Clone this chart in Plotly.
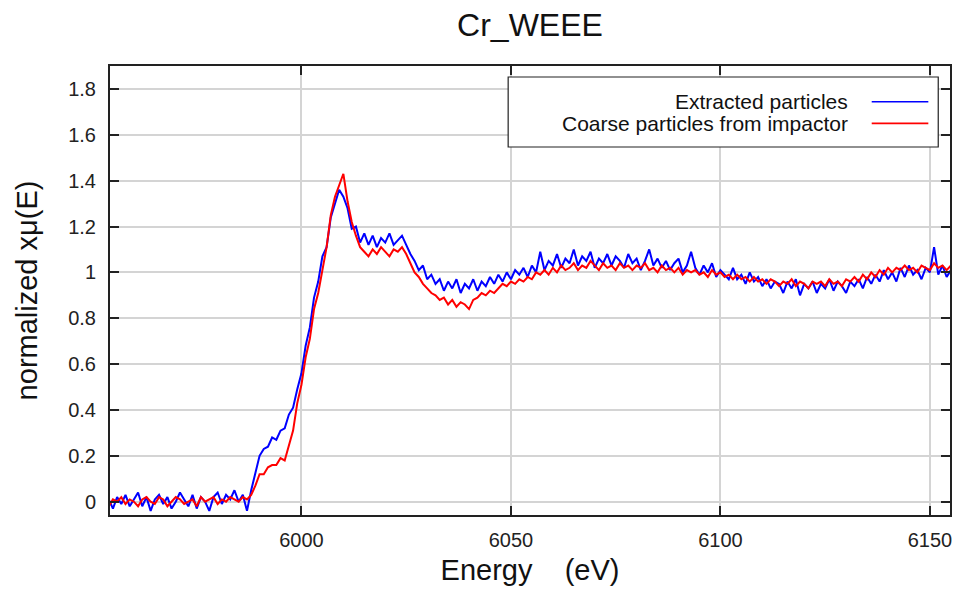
import plotly.graph_objects as go

energy = list(range(5954, 6156))

extracted = [
    0.01, -0.03, 0.02, -0.01, 0.03, -0.02, 0.01, 0.04, -0.02, 0.02,
    -0.04, 0.01, 0.03, -0.01, 0.02, -0.03, 0.00, 0.04, 0.01, -0.02,
    0.03, -0.03, 0.02, 0.00, -0.04, 0.02, 0.04, -0.01, 0.03, 0.01,
    0.05, 0.00, 0.03, -0.04, 0.05, 0.12, 0.20, 0.23, 0.24, 0.28,
    0.27, 0.31, 0.32, 0.38, 0.41, 0.49, 0.56, 0.68, 0.76, 0.89,
    0.96, 1.07, 1.11, 1.24, 1.30, 1.36, 1.33, 1.28, 1.19, 1.20,
    1.13, 1.17, 1.12, 1.16, 1.11, 1.15, 1.13, 1.17, 1.12, 1.14,
    1.16, 1.12, 1.08, 1.05, 1.01, 1.03, 0.97, 0.99, 0.95, 0.97,
    0.92, 0.96, 0.93, 0.97, 0.91, 0.95, 0.93, 0.97, 0.92, 0.96,
    0.94, 0.98, 0.95, 0.99, 0.96, 1.00, 0.97, 1.01, 0.99, 1.02,
    0.98, 1.03, 1.00, 1.09, 1.01, 1.05, 1.03, 1.08, 1.02, 1.06,
    1.04, 1.10, 1.03, 1.07, 1.05, 1.09, 1.02, 1.06, 1.04, 1.08,
    1.03, 1.07, 1.05, 1.02, 1.08, 1.04, 1.06, 1.01, 1.05, 1.10,
    1.03, 1.06, 1.02, 1.05, 1.01, 1.04, 1.06, 1.00, 1.03, 1.09,
    1.02, 0.99, 1.03, 1.00, 1.04, 0.98, 1.01, 0.99, 0.97, 1.02,
    0.97, 0.99, 0.95, 1.00, 0.96, 0.98, 0.94, 0.97, 0.93, 0.96,
    0.95, 0.91, 0.96, 0.93, 0.97, 0.90, 0.95, 0.93, 0.96, 0.91,
    0.95, 0.93, 0.97, 0.92, 0.96, 0.94, 0.91, 0.96, 0.94, 0.97,
    0.93, 0.98, 0.95, 0.99, 0.96, 1.01, 0.97, 1.00, 0.96, 1.02,
    0.98, 1.03, 0.99, 1.01, 0.97, 1.02, 1.00, 1.11, 0.99, 1.03,
    0.98, 1.01,
]

coarse = [
    -0.02, 0.01, 0.00, 0.02, -0.01, 0.01, 0.00, -0.02, 0.01, 0.02,
    0.00, -0.01, 0.02, 0.01, -0.02, 0.00, 0.02, 0.01, -0.01, 0.00,
    0.01, -0.02, 0.02, 0.00, 0.01, 0.02, -0.01, 0.01, 0.00, 0.02,
    0.01, 0.00, 0.02, 0.01, 0.03, 0.07, 0.12, 0.12, 0.15, 0.16,
    0.16, 0.19, 0.18, 0.25, 0.31, 0.43, 0.51, 0.63, 0.71, 0.84,
    0.91, 1.01, 1.11, 1.25, 1.33, 1.38, 1.43, 1.31, 1.22, 1.16,
    1.11, 1.09, 1.07, 1.10, 1.08, 1.11, 1.09, 1.07, 1.10, 1.09,
    1.11, 1.08, 1.04, 1.00, 0.98, 0.95, 0.93, 0.91, 0.90, 0.88,
    0.89, 0.86, 0.88, 0.85, 0.87, 0.86, 0.84, 0.88, 0.89, 0.91,
    0.90, 0.92, 0.91, 0.93, 0.95, 0.94, 0.96, 0.95, 0.97, 0.96,
    0.98, 0.97, 1.00, 0.99, 1.01, 0.99, 1.02, 1.00, 1.03, 1.01,
    1.02, 1.04, 1.01, 1.03, 1.02, 1.05, 1.03, 1.01, 1.04, 1.02,
    1.03, 1.01, 1.04, 1.02, 1.03, 1.01, 1.03, 1.02, 1.04, 1.01,
    1.02, 1.00, 1.03, 1.01, 1.02, 1.00, 1.02, 0.99, 1.01, 1.00,
    1.01, 0.99, 1.00, 0.98, 1.01, 0.99, 1.00, 0.98, 0.99, 0.97,
    0.99, 0.97, 0.98, 0.96, 0.98, 0.96, 0.97, 0.95, 0.97, 0.96,
    0.94, 0.96, 0.95, 0.97, 0.94, 0.96, 0.95, 0.93, 0.96, 0.95,
    0.96, 0.94, 0.97, 0.95, 0.96, 0.94, 0.97, 0.96, 0.98, 0.96,
    0.99, 0.97, 1.00, 0.98, 1.01, 0.99, 1.02, 1.00, 1.02, 1.01,
    1.03, 1.01, 1.02, 1.00, 1.03, 1.02, 1.01, 1.04, 1.02, 1.03,
    1.01, 1.03,
]

series_names = ["Extracted particles", "Coarse particles from impactor"]
series_colors = ["#0000ff", "#ff0000"]
x_ticks = [6000, 6050, 6100, 6150]
y_ticks = [0, 0.2, 0.4, 0.6, 0.8, 1, 1.2, 1.4, 1.6, 1.8]
y_tick_labels = ["0", "0.2", "0.4", "0.6", "0.8", "1", "1.2", "1.4", "1.6", "1.8"]

FONT = "Liberation Sans, Arial, sans-serif"

fig = go.Figure()
for name, ys, col in zip(series_names, [extracted, coarse], series_colors):
    fig.add_trace(go.Scatter(x=energy, y=ys, mode="lines", name=name,
                             line=dict(color=col, width=2), showlegend=False))

axis_common = dict(
    showline=True, linecolor="#222222", linewidth=2, mirror="ticks",
    ticks="inside", ticklen=9, tickwidth=2, tickcolor="#222222",
    showgrid=True, gridcolor="#d4d4d4", gridwidth=1.5, zeroline=False,
    tickfont=dict(family=FONT, size=20, color="#222222"),
    automargin=False,
)

fig.update_xaxes(range=[5954.3, 6154.8], tickvals=x_ticks, ticklabelstandoff=6,
                 **axis_common,
                 title=dict(text="Energy\u00a0\u00a0\u00a0\u00a0(eV)",
                            font=dict(family=FONT, size=29, color="#111111"),
                            standoff=10))
fig.update_yaxes(range=[-0.058, 1.9], tickvals=y_ticks, ticktext=y_tick_labels,
                 ticklabelstandoff=8, **axis_common,
                 title=dict(text="normalized xμ(E)",
                            font=dict(family=FONT, size=29, color="#111111"),
                            standoff=22))

# legend drawn as box + labels + line samples (samples to the right of labels)
shapes = [dict(type="rect", xref="paper", yref="paper", x0=0.474, x1=0.986,
               y0=0.8196, y1=0.9755, line=dict(color="#222222", width=1.2),
               fillcolor="white", layer="above")]
annotations = []
for i, (name, col) in enumerate(zip(series_names, series_colors)):
    yy = [0.9205, 0.8723][i]
    shapes.append(dict(type="line", xref="paper", yref="paper", x0=0.9068, x1=0.9742,
                       y0=yy, y1=yy, line=dict(color=col, width=1.6), layer="above"))
    annotations.append(dict(text=name, xref="paper", yref="paper", x=0.881, y=yy,
                            xanchor="right", yanchor="middle", showarrow=False,
                            font=dict(family=FONT, size=21, color="#111111")))

fig.update_layout(
    width=958, height=590,
    margin=dict(l=110, r=8, t=66, b=75),
    paper_bgcolor="white", plot_bgcolor="white",
    title=dict(text="Cr_WEEE", x=0.5, xref="paper", y=1 - 25 / 590, yref="container",
               xanchor="center", yanchor="middle",
               font=dict(family=FONT, size=32, color="#111111")),
    shapes=shapes, annotations=annotations,
)

fig.write_html("out.html", config={"displayModeBar": False},
               post_script="document.body.style.margin='0';")
